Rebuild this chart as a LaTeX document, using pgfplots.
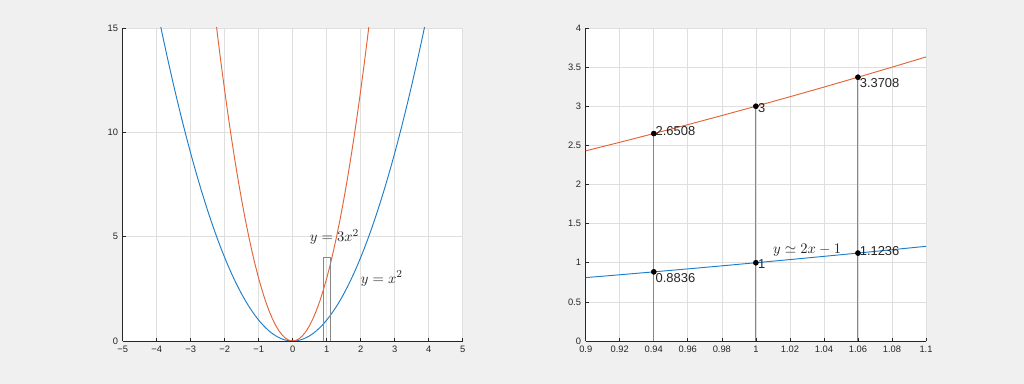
\documentclass[border=0pt]{standalone}
\usepackage{fontspec}
\setmainfont{Liberation Sans}
\usepackage{pgfplots}
\pgfplotsset{compat=1.18}
\definecolor{bg}{RGB}{240,240,240}
\definecolor{mblue}{RGB}{30,125,200}
\definecolor{morange}{RGB}{228,100,55}
\definecolor{axc}{RGB}{38,38,38}
\definecolor{gridc}{RGB}{223,223,223}
\definecolor{vline}{RGB}{135,135,135}
\pgfplotsset{
  mstyle/.style={
    scale only axis, height=234.75pt, anchor=south west,
    axis x line*=bottom, axis y line*=left,
    tick align=inside, grid=major,
    major grid style={gridc, line width=0.5pt},
    axis line style={axc, line width=0.6pt},
    major tick style={axc, line width=0.5pt},
    major tick length=2.5pt,
    tick label style={font=\fontsize{7}{8}\selectfont, text=axc},
    /pgf/number format/assume math mode=true,
    axis background/.style={fill=white},
  }
}
\begin{document}
\begin{tikzpicture}
\fill[bg] (0,0) rectangle (768pt,288pt);
\useasboundingbox (0,0) rectangle (768pt,288pt);
% ---------- left axis ----------
\begin{axis}[mstyle, at={(92pt,32.25pt)}, width=255pt,
  xmin=-5, xmax=5, ymin=0, ymax=15,
  xtick={-5,-4,-3,-2,-1,0,1,2,3,4,5},
  xticklabels={−5,−4,−3,−2,−1,0,1,2,3,4,5},
  ytick={0,5,10,15}, yticklabels={0,5,10,15}]
\addplot[mblue, line width=0.7pt] coordinates {
(-4,16)(-3.9,15.21)(-3.8,14.44)(-3.7,13.69)(-3.6,12.96)(-3.5,12.25)(-3.4,11.56)(-3.3,10.89)(-3.2,10.24)(-3.1,9.61)
(-3,9)(-2.9,8.41)(-2.8,7.84)(-2.7,7.29)(-2.6,6.76)(-2.5,6.25)(-2.4,5.76)(-2.3,5.29)(-2.2,4.84)(-2.1,4.41)
(-2,4)(-1.9,3.61)(-1.8,3.24)(-1.7,2.89)(-1.6,2.56)(-1.5,2.25)(-1.4,1.96)(-1.3,1.69)(-1.2,1.44)(-1.1,1.21)
(-1,1)(-0.9,0.81)(-0.8,0.64)(-0.7,0.49)(-0.6,0.36)(-0.5,0.25)(-0.4,0.16)(-0.3,0.09)(-0.2,0.04)(-0.1,0.01)
(0,0)(0.1,0.01)(0.2,0.04)(0.3,0.09)(0.4,0.16)(0.5,0.25)(0.6,0.36)(0.7,0.49)(0.8,0.64)(0.9,0.81)
(1,1)(1.1,1.21)(1.2,1.44)(1.3,1.69)(1.4,1.96)(1.5,2.25)(1.6,2.56)(1.7,2.89)(1.8,3.24)(1.9,3.61)
(2,4)(2.1,4.41)(2.2,4.84)(2.3,5.29)(2.4,5.76)(2.5,6.25)(2.6,6.76)(2.7,7.29)(2.8,7.84)(2.9,8.41)
(3,9)(3.1,9.61)(3.2,10.24)(3.3,10.89)(3.4,11.56)(3.5,12.25)(3.6,12.96)(3.7,13.69)(3.8,14.44)(3.9,15.21)(4,16)};
\addplot[morange, line width=0.7pt] coordinates {
(-2.3,15.87)(-2.2,14.52)(-2.1,13.23)(-2,12)(-1.9,10.83)(-1.8,9.72)(-1.7,8.67)(-1.6,7.68)(-1.5,6.75)(-1.4,5.88)
(-1.3,5.07)(-1.2,4.32)(-1.1,3.63)(-1,3)(-0.9,2.43)(-0.8,1.92)(-0.7,1.47)(-0.6,1.08)(-0.5,0.75)(-0.4,0.48)
(-0.3,0.27)(-0.2,0.12)(-0.1,0.03)(0,0)(0.1,0.03)(0.2,0.12)(0.3,0.27)(0.4,0.48)(0.5,0.75)(0.6,1.08)
(0.7,1.47)(0.8,1.92)(0.9,2.43)(1,3)(1.1,3.63)(1.2,4.32)(1.3,5.07)(1.4,5.88)(1.5,6.75)(1.6,7.68)
(1.7,8.67)(1.8,9.72)(1.9,10.83)(2,12)(2.1,13.23)(2.2,14.52)(2.3,15.87)};
\addplot[vline, line width=0.6pt] coordinates {(0.9,0)(1.1,0)(1.1,4)(0.9,4)(0.9,0)};
\node[anchor=west, inner sep=0pt, text=axc, font=\fontsize{11}{13}\selectfont] at (axis cs:0.5,5) {$y=3x^2$};
\node[anchor=west, inner sep=0pt, text=axc, font=\fontsize{11}{13}\selectfont] at (axis cs:2,3) {$y=x^2$};
\end{axis}
% ---------- right axis ----------
\begin{axis}[mstyle, at={(439.3pt,32.25pt)}, width=255.2pt,
  xmin=0.9, xmax=1.1, ymin=0, ymax=4,
  xtick={0.9,0.92,0.94,0.96,0.98,1,1.02,1.04,1.06,1.08,1.1},
  xticklabels={0.9,0.92,0.94,0.96,0.98,1,1.02,1.04,1.06,1.08,1.1},
  ytick={0,0.5,1,1.5,2,2.5,3,3.5,4},
  yticklabels={0,0.5,1,1.5,2,2.5,3,3.5,4}]
\addplot[vline, line width=0.7pt] coordinates {(0.94,0)(0.94,2.6508)};
\addplot[vline, line width=0.7pt] coordinates {(1,0)(1,3)};
\addplot[vline, line width=0.7pt] coordinates {(1.06,0)(1.06,3.3708)};
\addplot[mblue, line width=0.7pt] coordinates {
(0.9,0.81)(0.92,0.8464)(0.94,0.8836)(0.96,0.9216)(0.98,0.9604)(1,1)(1.02,1.0404)(1.04,1.0816)(1.06,1.1236)(1.08,1.1664)(1.1,1.21)};
\addplot[morange, line width=0.7pt] coordinates {
(0.9,2.43)(0.92,2.5392)(0.94,2.6508)(0.96,2.7648)(0.98,2.8812)(1,3)(1.02,3.1212)(1.04,3.2448)(1.06,3.3708)(1.08,3.4992)(1.1,3.63)};
\addplot[only marks, mark=*, mark size=1.9pt, black] coordinates {
(0.94,0.8836)(1,1)(1.06,1.1236)(0.94,2.6508)(1,3)(1.06,3.3708)};
\begin{scope}[every node/.style={anchor=west, inner sep=0pt, font=\fontsize{9.7}{12}\selectfont, text=black!85}]
\node[xshift=1.2pt, yshift=2.2pt] at (axis cs:0.94,2.6508) {2.6508};
\node[xshift=1.5pt, yshift=-1.5pt] at (axis cs:1,3) {3};
\node[xshift=1.2pt, yshift=-4.5pt] at (axis cs:1.06,3.3708) {3.3708};
\node[xshift=1.2pt, yshift=-4.5pt] at (axis cs:0.94,0.8836) {0.8836};
\node[xshift=1.5pt, yshift=-1.1pt] at (axis cs:1,1) {1};
\node[xshift=1.2pt, yshift=1.8pt] at (axis cs:1.06,1.1236) {1.1236};
\end{scope}
\node[anchor=west, inner sep=0pt, text=axc, font=\fontsize{11}{13}\selectfont] at (axis cs:1.01,1.163) {$y\simeq 2x-1$};
\end{axis}
\end{tikzpicture}
\end{document}
